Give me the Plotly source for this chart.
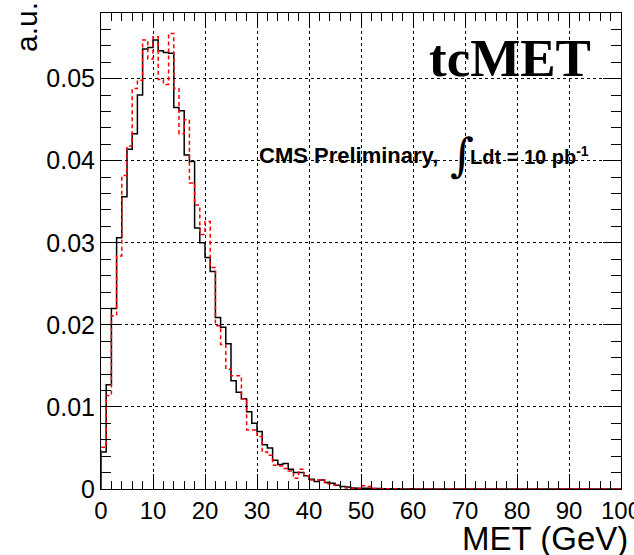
import plotly.graph_objects as go

# ---- data: normalised MET distributions, 1 GeV bins from 0 to 100 ----
bin_lo = list(range(0, 100))
met_black = [0.0045, 0.0127, 0.0220, 0.0306, 0.0356, 0.0414, 0.0433, 0.0480, 0.0536, 0.0538,
             0.0547, 0.0534, 0.0532, 0.0531, 0.0465, 0.0461, 0.0407, 0.0399, 0.0318, 0.0300,
             0.0282, 0.0265, 0.0209, 0.0197, 0.0177, 0.0132, 0.0118, 0.0110, 0.0094, 0.0080,
             0.0070, 0.0054, 0.0050, 0.0035, 0.0030, 0.0031, 0.0024, 0.0020, 0.0020, 0.0016,
             0.0012, 0.0009, 0.0011, 0.0008, 0.0007, 0.00045, 0.0003, 0.00025, 0.00012, 0.0001,
             0.0001, 0.00008, 0.00005, 0.00005, 0.00003, 0.00003, 0.00002, 0.00002, 0.00001, 0.00002,
             0.00001, 0.00001, 0.0, 0.00001, 0.0, 0.0, 0.00001, 0.0, 0.0, 0.0,
             0.0, 0.0, 0.0, 0.0, 0.0, 0.0, 0.0, 0.0, 0.0, 0.0,
             0.0, 0.0, 0.0, 0.0, 0.0, 0.0, 0.0, 0.0, 0.0, 0.0,
             0.0, 0.0, 0.0, 0.0, 0.0, 0.0, 0.0, 0.0, 0.0, 0.0]
met_red = [0.0051, 0.0114, 0.0211, 0.0284, 0.0382, 0.0418, 0.0488, 0.0498, 0.0547, 0.0524,
           0.0551, 0.0499, 0.0493, 0.0555, 0.0488, 0.0433, 0.0450, 0.0373, 0.0346, 0.0310,
           0.0326, 0.0270, 0.0199, 0.0176, 0.0146, 0.0138, 0.0138, 0.0110, 0.0072, 0.0072,
           0.0064, 0.0045, 0.0041, 0.0029, 0.0028, 0.0025, 0.0022, 0.0013, 0.0024, 0.0016,
           0.0011, 0.0011, 0.0011, 0.00065, 0.0005, 0.0005, 0.00025, 0.00012, 0.0001, 0.00005,
           0.0004, 0.0003, 0.00005, 0.00003, 0.00002, 0.00003, 0.00001, 0.00002, 0.0, 0.00001,
           0.0, 0.00001, 0.0, 0.0, 0.00001, 0.0, 0.0, 0.0, 0.0, 0.0,
           0.0, 0.0, 0.0, 0.0, 0.0, 0.0, 0.0, 0.0, 0.0, 0.0,
           0.0, 0.0, 0.0, 0.0, 0.0, 0.0, 0.0, 0.0, 0.0, 0.0,
           0.0, 0.0, 0.0, 0.0, 0.0, 0.0, 0.0, 0.0, 0.0, 0.0]
x_ticks = [0, 10, 20, 30, 40, 50, 60, 70, 80, 90, 100]
x_tick_labels = ["0", "10", "20", "30", "40", "50", "60", "70", "80", "90", "100"]
y_ticks = [0, 0.01, 0.02, 0.03, 0.04, 0.05]
y_tick_labels = ["0", "0.01", "0.02", "0.03", "0.04", "0.05"]

BIN_W = 1.0


def step_xy(lo, vals):
    xs = [lo[0]] + list(lo) + [lo[-1] + BIN_W]
    ys = [0.0] + list(vals) + [vals[-1]]
    return xs, ys


# ---- layout geometry (px) ----
W_FIG, H_FIG = 634, 555
L, R, T, B = 101, 13, 13, 66
PW, PH = W_FIG - L - R, H_FIG - T - B


def px_x(px):
    return (px - L) / PW


def px_y(py):
    return (H_FIG - B - py) / PH


fig = go.Figure()
xb, yb = step_xy(bin_lo, met_black)
xr, yr = step_xy(bin_lo, met_red)
fig.add_trace(go.Scatter(x=xb, y=yb, mode="lines", line=dict(shape="hv", color="black", width=1.5),
                         showlegend=False, hoverinfo="skip"))
fig.add_trace(go.Scatter(x=xr, y=yr, mode="lines",
                         line=dict(shape="hv", color="#ff0000", width=1.5, dash="4px,3px"),
                         showlegend=False, hoverinfo="skip"))

font_x = dict(family="Liberation Sans, Arial, sans-serif", size=24, color="black")
font_y = dict(family="Liberation Sans, Arial, sans-serif", size=25, color="black")

fig.update_xaxes(range=[0, 100], tickvals=x_ticks, ticktext=x_tick_labels, tickfont=font_x,
                 ticks="inside", ticklen=15, tickwidth=1, tickcolor="black", automargin=False,
                 ticklabeloverflow="allow",
                 showline=True, linecolor="black", linewidth=1, mirror="ticks",
                 showgrid=True, gridcolor="black", griddash="dot", gridwidth=1,
                 minor=dict(dtick=2, tick0=0, ticks="inside", ticklen=8, tickcolor="black", showgrid=False),
                 zeroline=False)
fig.update_yaxes(range=[0, 0.058], tickvals=y_ticks, ticktext=y_tick_labels, tickfont=font_y,
                 ticks="inside", ticklen=18, tickwidth=1, tickcolor="black", automargin=False,
                 ticklabeloverflow="allow",
                 showline=True, linecolor="black", linewidth=1, mirror="ticks",
                 showgrid=True, gridcolor="black", griddash="dot", gridwidth=1,
                 minor=dict(dtick=0.002, tick0=0, ticks="inside", ticklen=10, tickcolor="black", showgrid=False),
                 zeroline=False)

ann = []
ann.append(dict(text="MET (GeV)", xref="paper", yref="paper", x=px_x(460), y=px_y(538),
                xanchor="left", yanchor="middle", showarrow=False,
                font=dict(family="Liberation Sans, Arial, sans-serif", size=33, color="black")))
ann.append(dict(text="a.u.", xref="paper", yref="paper", x=px_x(26), y=px_y(27),
                xanchor="center", yanchor="middle", textangle=-90, showarrow=False,
                font=dict(family="Liberation Sans, Arial, sans-serif", size=30, color="black")))
ann.append(dict(text="<b>tcMET</b>", xref="paper", yref="paper", x=px_x(593), y=px_y(58),
                xanchor="right", yanchor="middle", showarrow=False,
                font=dict(family="Liberation Serif, Times New Roman, serif", size=53, color="black")))
ann.append(dict(text="<b>CMS Preliminary,</b>", xref="paper", yref="paper", x=px_x(257), y=px_y(155),
                xanchor="left", yanchor="middle", showarrow=False,
                font=dict(family="Liberation Sans, Arial, sans-serif", size=22, color="black")))
ann.append(dict(text="∫", xref="paper", yref="paper", x=px_x(462), y=px_y(155),
                xanchor="center", yanchor="middle", showarrow=False,
                font=dict(family="DejaVu Serif, serif", size=46, color="black")))
ann.append(dict(text="<b>Ldt = 10 pb<sup>-1</sup></b>", xref="paper", yref="paper", x=px_x(468), y=px_y(155),
                xanchor="left", yanchor="middle", showarrow=False,
                font=dict(family="Liberation Sans, Arial, sans-serif", size=20, color="black")))

fig.update_layout(width=W_FIG, height=H_FIG, margin=dict(l=L, r=R, t=T, b=B, pad=0),
                  paper_bgcolor="white", plot_bgcolor="white", annotations=ann)

fig.write_html("out.html", config={"displayModeBar": False},
               post_script="document.body.style.margin='0';document.body.style.overflow='hidden';")
